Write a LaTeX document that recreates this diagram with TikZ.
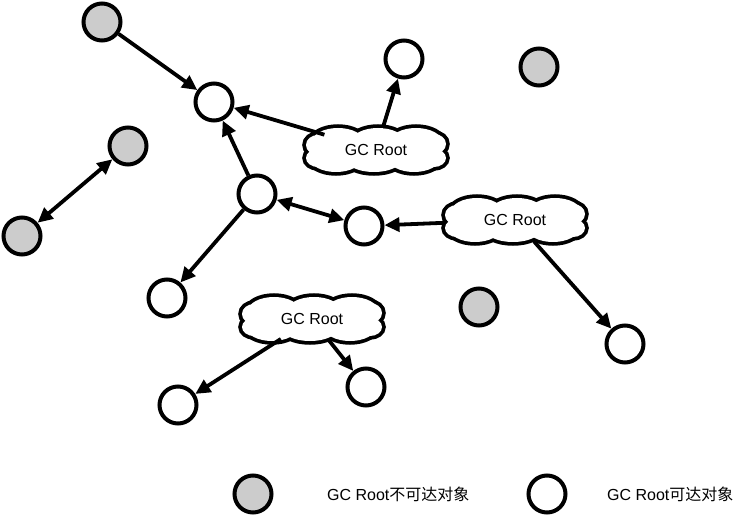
\documentclass[tikz,border=0pt]{standalone}
\usepackage{fontspec}
\setmainfont{Liberation Sans}
\newfontfamily\cjk{Noto Sans CJK SC}
\usetikzlibrary{arrows.meta,shapes.geometric}
\definecolor{objgray}{HTML}{CCCCCC}
\tikzset{
  obj/.style={circle,draw=black,line width=4pt,minimum size=37pt,inner sep=0pt,fill=white},
  dead/.style={obj,fill=objgray},
  root/.style={ellipse,draw=none,minimum width=142pt,minimum height=44pt,inner sep=0pt,
    font=\fontsize{16}{19}\selectfont},
  puffline/.style={draw=black,line width=7.5pt},
  pufffill/.style={fill=white},
  ref/.style={line width=3.8pt,-{Triangle[length=15pt,width=14pt]}},
  bref/.style={line width=3.8pt,{Triangle[length=15pt,width=14pt]}-{Triangle[length=15pt,width=14pt]}},
  legend/.style={anchor=west,inner sep=0pt,font=\fontsize{16}{19}\selectfont}
}
\newcommand\gccloud[1]{%
  \begin{scope}[shift={(#1)}]
    \foreach \s in {puffline,pufffill}{
      \path[\s] (-38,-8) ellipse [x radius=26pt,y radius=14pt];
      \path[\s] (2,-9) ellipse [x radius=26pt,y radius=13pt];
      \path[\s] (40,-8) ellipse [x radius=26pt,y radius=14pt];
      \path[\s] (-40,8) ellipse [x radius=26pt,y radius=14pt];
      \path[\s] (-2,9) ellipse [x radius=28pt,y radius=13pt];
      \path[\s] (38,8) ellipse [x radius=26pt,y radius=14pt];
      \path[\s] (-58,-5) ellipse [x radius=12pt,y radius=10pt];
      \path[\s] (-58,8) ellipse [x radius=12pt,y radius=9pt];
      \path[\s] (58,-6) ellipse [x radius=12pt,y radius=10pt];
      \path[\s] (58,8) ellipse [x radius=12pt,y radius=9pt];
      \path[\s] (-58,-6) rectangle (58,8);
    }
  \end{scope}}
\begin{document}
\begin{tikzpicture}[x=1pt,y=-1pt]
\useasboundingbox (0,0) rectangle (740,516);
% unreachable
\node[dead] (g1) at (102,22) {};
\node[dead] (g2) at (539,67) {};
\node[dead] (g3) at (128,146) {};
\node[dead] (g4) at (22,236) {};
\node[dead] (g5) at (479,307) {};
% reachable
\node[obj] (w1) at (214,102) {};
\node[obj] (w2) at (404,59) {};
\node[obj] (w3) at (257,194) {};
\node[obj] (w4) at (364,226) {};
\node[obj] (w5) at (167,298) {};
\node[obj] (w6) at (625,344) {};
\node[obj] (w7) at (178,405) {};
\node[obj] (w8) at (366,387) {};
% roots
\gccloud{376,150}
\gccloud{515,220}
\gccloud{312,319}
\node[root] (c1) at (376,150) {GC Root};
\node[root] (c2) at (515,220) {GC Root};
\node[root] (c3) at (312,319) {GC Root};
% connectors
\draw[ref] (g1) -- (w1);
\draw[bref] (g3) -- (g4);
\draw[ref] (c1) -- (w1);
\draw[ref] (c1) -- (w2);
\draw[ref] (w3) -- (w1);
\draw[ref] (w3) -- (w5);
\draw[bref] (w3) -- (w4);
\draw[ref] (c2) -- (w4);
\draw[ref] (c2) -- (w6);
\draw[ref] (c3) -- (w7);
\draw[ref] (c3) -- (w8);
% legend
\node[dead] (lg) at (253,494) {};
\node[legend] (lgt) at (327,494) {GC Root{\cjk 不可达对象}};
\node[obj] (lw) at (547,494) {};
\node[legend] (lwt) at (607,494) {GC Root{\cjk 可达对象}};
\end{tikzpicture}
\end{document}
